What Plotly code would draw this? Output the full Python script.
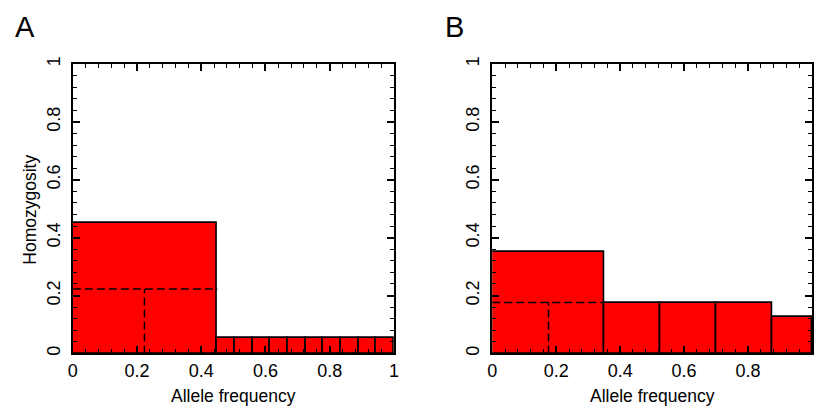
import numpy as np
import plotly.graph_objects as go

# Panel A: allele widths (frequency) and heights (frequency)
a_widths = [0.45] + [0.055] * 10
a_heights = [0.45] + [0.055] * 10
a_H = 0.223  # dashed marker (homozygosity)

# Panel B
b_widths = [0.35, 0.175, 0.175, 0.175, 0.125]
b_heights = [0.35, 0.175, 0.175, 0.175, 0.125]
b_H = 0.176

tick_vals = [0, 0.2, 0.4, 0.6, 0.8, 1]
tick_text = ["0", "0.2", "0.4", "0.6", "0.8", "1"]

FONT = "Liberation Sans, Arial, sans-serif"
W, H = 817, 416

fig = go.Figure()

def add_panel(widths, heights, hval, xa, ya):
    w = np.array(widths)
    left = np.concatenate([[0], np.cumsum(w)[:-1]])
    centers = left + w / 2
    fig.add_trace(go.Bar(x=centers, y=heights, width=w, base=0,
                         marker=dict(color="#ff0000", line=dict(color="black", width=1.6)),
                         xaxis=xa, yaxis=ya, showlegend=False, hoverinfo="skip"))
    fig.add_trace(go.Scatter(x=[0, widths[0]], y=[hval, hval], mode="lines",
                             line=dict(color="black", width=1.5, dash="8px,4px"),
                             xaxis=xa, yaxis=ya, showlegend=False, hoverinfo="skip"))
    fig.add_trace(go.Scatter(x=[hval, hval], y=[0, hval], mode="lines",
                             line=dict(color="black", width=1.5, dash="8px,4px"),
                             xaxis=xa, yaxis=ya, showlegend=False, hoverinfo="skip"))

add_panel(a_widths, a_heights, a_H, "x", "y")
add_panel(b_widths, b_heights, b_H, "x2", "y2")

y_dom = [(H - 354) / H, (H - 57.3) / H]
ax_common = dict(range=[0, 1], tickvals=tick_vals, ticktext=tick_text,
                 ticks="inside", ticklen=7, tickwidth=1.6, tickcolor="black",
                 showline=True, linewidth=2, linecolor="black", mirror="allticks",
                 showgrid=False, zeroline=False,
                 minor=dict(ticks="inside", ticklen=4, tickwidth=1.4, tickcolor="black", dtick=0.04, tick0=0, showgrid=False),
                 tickfont=dict(family=FONT, size=18, color="black"), fixedrange=True)

fig.update_layout(
    width=W, height=H, margin=dict(l=0, r=0, t=0, b=0),
    paper_bgcolor="white", plot_bgcolor="white", bargap=0,
    xaxis=dict(domain=[68.7 / W, 393.7 / W], anchor="y", **ax_common),
    yaxis=dict(domain=y_dom, anchor="x", tickangle=-90, ticklabelstandoff=4, **ax_common),
    xaxis2=dict(domain=[493.3 / W, 1.0], anchor="y2", **ax_common),
    yaxis2=dict(domain=y_dom, anchor="x2", tickangle=-90, ticklabelstandoff=4, **ax_common),
    annotations=[
        dict(text="A", x=20 / W, y=(H - 19) / H, xref="paper", yref="paper", showarrow=False,
             font=dict(family=FONT, size=29, color="black"), xanchor="center", yanchor="middle"),
        dict(text="B", x=455 / W, y=(H - 19) / H, xref="paper", yref="paper", showarrow=False,
             font=dict(family=FONT, size=29, color="black"), xanchor="center", yanchor="middle"),
        dict(text="Allele frequency", x=231 / W, y=(H - 398) / H, xref="paper", yref="paper", showarrow=False,
             font=dict(family=FONT, size=17.5, color="black"), xanchor="center", yanchor="middle"),
        dict(text="Allele frequency", x=656 / W, y=(H - 398) / H, xref="paper", yref="paper", showarrow=False,
             font=dict(family=FONT, size=17.5, color="black"), xanchor="center", yanchor="middle"),
        dict(text="Homozygosity", x=25 / W, y=(H - 207) / H, xref="paper", yref="paper", showarrow=False,
             textangle=-90, font=dict(family=FONT, size=17.5, color="black"), xanchor="center", yanchor="middle"),
    ],
)

fig.write_html("out.html", config={"displayModeBar": False},
               post_script="document.body.style.margin='0';document.body.style.overflow='hidden';")
